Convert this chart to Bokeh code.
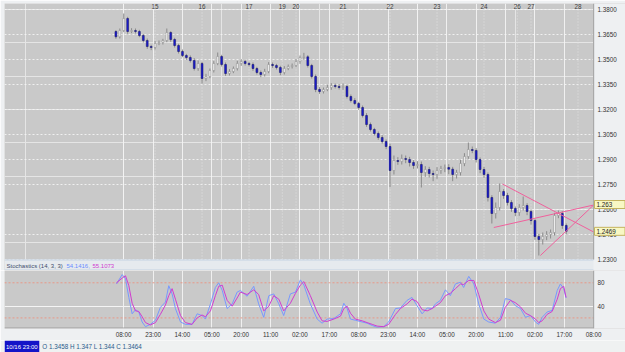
import numpy as np
from bokeh.plotting import figure
from bokeh.layouts import column
from bokeh.models import Range1d, FixedTicker, Grid, ColumnDataSource
from bokeh.core.properties import value
from bokeh.embed import file_html
from bokeh.resources import INLINE

# ---------------- data ----------------
bar_hours_start = -4          # first 2-hour bar, hours after 10/14 08:00 (weekends compressed)
bar_step = 2
first_open = 1.3668
closes = [
    1.3636, 1.3674, 1.3746, 1.3668, 1.3674, 1.3668, 1.3644, 1.3614, 1.3578, 1.3572,
    1.3596, 1.3602, 1.3614, 1.3662, 1.3620, 1.3584, 1.3548, 1.3524, 1.3512, 1.3494,
    1.3446, 1.3476, 1.3386, 1.3398, 1.3434, 1.3476, 1.3518, 1.3470, 1.3416, 1.3428,
    1.3446, 1.3476, 1.3488, 1.3476, 1.3470, 1.3446, 1.3422, 1.3410, 1.3428, 1.3470,
    1.3464, 1.3452, 1.3422, 1.3446, 1.3458, 1.3464, 1.3488, 1.3512, 1.3516, 1.3464,
    1.3398, 1.3320, 1.3308, 1.3320, 1.3332, 1.3344, 1.3338, 1.3332, 1.3338, 1.3278,
    1.3254, 1.3236, 1.3212, 1.3164, 1.3110, 1.3080, 1.3056, 1.3032, 1.3008, 1.2978,
    1.2834, 1.2894, 1.2888, 1.2906, 1.2900, 1.2882, 1.2864, 1.2870, 1.2822, 1.2840,
    1.2816, 1.2810, 1.2834, 1.2846, 1.2852, 1.2842, 1.2810, 1.2822, 1.2876, 1.2918,
    1.2960, 1.2954, 1.2900, 1.2840, 1.2810, 1.2672, 1.2576, 1.2612, 1.2708, 1.2684,
    1.2642, 1.2606, 1.2582, 1.2612, 1.2624, 1.2588, 1.2534, 1.2438, 1.2420, 1.2438,
    1.2450, 1.2462, 1.2564, 1.2576, 1.2504, 1.2469]
wick_up_pips = [
    8, 12, 30, 10, 14, 12, 10, 8, 12, 10,
    14, 12, 10, 24, 8, 10, 10, 12, 10, 12,
    14, 18, 10, 16, 12, 14, 24, 10, 12, 14,
    12, 16, 14, 12, 10, 12, 10, 12, 16, 14,
    12, 10, 10, 14, 12, 12, 14, 12, 24, 10,
    10, 12, 14, 12, 16, 14, 12, 14, 18, 10,
    12, 14, 10, 12, 14, 12, 10, 12, 14, 12,
    16, 30, 20, 24, 18, 16, 14, 20, 18, 20,
    16, 18, 20, 16, 18, 20, 14, 16, 22, 20,
    42, 18, 14, 12, 16, 12, 14, 30, 48, 14,
    16, 14, 12, 20, 54, 14, 12, 10, 16, 24,
    20, 18, 16, 18, 14, 12]
wick_dn_pips = [
    12, 10, 10, 14, 10, 12, 10, 12, 14, 16,
    12, 10, 12, 10, 14, 12, 12, 10, 14, 12,
    12, 14, 30, 16, 10, 12, 10, 12, 14, 12,
    10, 12, 14, 12, 12, 14, 12, 16, 12, 10,
    14, 12, 16, 12, 10, 12, 10, 14, 12, 12,
    12, 16, 14, 12, 10, 14, 12, 12, 14, 12,
    12, 10, 14, 12, 14, 12, 12, 14, 12, 16,
    100, 24, 20, 18, 22, 24, 20, 18, 90, 26,
    24, 40, 26, 20, 22, 30, 40, 24, 18, 16,
    14, 16, 18, 22, 20, 24, 60, 30, 18, 20,
    18, 20, 22, 20, 18, 22, 24, 20, 96, 30,
    22, 24, 18, 16, 20, 18]

time_tick_hours = [0, 15, 30, 45, 60, 75, 90, 105, 120, 135, 150, 165, 180, 195, 210, 225, 240]
time_tick_labels = ["08:00", "23:00", "14:00", "05:00", "20:00", "11:00", "02:00", "17:00",
                    "08:00", "23:00", "14:00", "05:00", "20:00", "11:00", "02:00", "17:00", "08:00"]
date_hours = [16, 40, 64, 81, 88, 112, 136, 160, 184, 201, 208, 232]
date_labels = ["15", "16", "17", "19", "20", "21", "22", "23", "24", "26", "27", "28"]
price_ticks = [1.2300, 1.2450, 1.2600, 1.2750, 1.2900, 1.3050, 1.3200, 1.3350, 1.3500, 1.3650, 1.3800]
price_labels = ["%.4f" % v for v in price_ticks]

trend_t0 = [193.4, 189.0, 212.8]
trend_p0 = [1.2753, 1.2492, 1.2324]
trend_t1 = [240.0, 240.0, 240.0]
trend_p1 = [1.2465, 1.2627, 1.2627]
tag_values = [1.263, 1.2469]
tag_texts = ["1.263", "1.2469"]

stoch_hours = [-3.7, -0.8, 0.9, 2.6, 4.3, 6.0, 7.7, 9.4, 11.1, 13.6,
               16.2, 18.7, 21.3, 23.0, 24.7, 26.4, 29.0, 31.5, 34.9, 37.5,
               40.0, 41.7, 44.3, 46.8, 48.5, 50.3, 52.8, 55.4, 57.9, 59.6,
               63.0, 66.4, 68.9, 71.5, 74.1, 76.6, 79.2, 81.7, 85.1, 87.7,
               90.2, 92.0, 95.3, 98.8, 101.3, 103.9, 107.3, 110.7, 112.4, 114.1,
               115.8, 118.3, 121.8, 124.3, 126.9, 129.4, 132.8, 135.3, 138.8, 141.3,
               144.7, 147.2, 149.8, 152.4, 155.0, 157.5, 159.2, 161.7, 164.3, 166.8,
               169.4, 172.0, 173.6, 176.2, 178.8, 181.3, 183.9, 186.4, 189.8, 192.4,
               194.9, 197.5, 200.0, 202.6, 205.2, 207.7, 210.3, 211.9, 213.7, 216.2,
               218.8, 221.4, 223.0, 224.7, 225.9]
stoch_k = [78, 94, 87, 55, 27, 34, 30, 13, 5, 9,
           16, 38, 47, 75, 61, 36, 13, 9, 9, 27,
           24, 18, 44, 72, 80, 67, 36, 44, 64, 67,
           57, 74, 44, 21, 58, 61, 44, 24, 61, 64,
           85, 76, 44, 18, 11, 18, 19, 27, 45, 36,
           18, 16, 13, 11, 7, 4, 5, 13, 36, 37,
           50, 55, 41, 27, 37, 36, 44, 50, 68, 58,
           78, 81, 72, 91, 78, 44, 18, 13, 11, 21,
           53, 51, 41, 36, 21, 24, 13, 9, 21, 30,
           33, 67, 78, 70, 54.1416]
stoch_d = [80, 88, 92, 75, 45, 32, 31, 22, 12, 8,
           12, 26, 42, 58, 70, 52, 24, 12, 9, 20,
           25, 22, 32, 58, 74, 76, 50, 40, 54, 64,
           60, 68, 60, 32, 40, 58, 52, 32, 45, 62,
           76, 82, 58, 30, 15, 14, 18, 23, 36, 40,
           28, 18, 15, 12, 9, 6, 5, 9, 26, 36,
           44, 52, 48, 34, 32, 36, 40, 46, 58, 62,
           70, 78, 77, 84, 84, 60, 32, 18, 12, 16,
           38, 50, 46, 39, 28, 24, 18, 12, 15, 26,
           31, 52, 70, 74, 55.1073]
stoch_ticks = [40, 80]
stoch_levels = [80, 20]
stoch_title = "Stochastics (14, 3, 3)"
info_time = "10/16 23:00"
info_ohlc = "O 1.3458 H 1.347 L 1.344 C 1.3464"

# ---------------- derived OHLC ----------------
n = len(closes)
bar_hours = [bar_hours_start + bar_step * i for i in range(n)]
opens = [first_open] + closes[:-1]
tops = [max(o, c) for o, c in zip(opens, closes)]
bots = [min(o, c) for o, c in zip(opens, closes)]
highs = [t + u * 0.0001 for t, u in zip(tops, wick_up_pips)]
lows = [b - d * 0.0001 for b, d in zip(bots, wick_dn_pips)]
down = [c < o for o, c in zip(opens, closes)]
fills = ["#1c1cd2" if d else "#f4f4f4" for d in down]
lines = ["#10105a" if d else "#8a8a8a" for d in down]
src = ColumnDataSource(dict(t=bar_hours, top=tops, bot=bots, hi=highs, lo=lows, fill=fills, line=lines))

# ---------------- layout constants ----------------
FONT = "Liberation Sans"
FS = "6.3px"
FS_STRIP = "6px"
BORDER = "#eef0f2"
PANEL = "#c9c9c9"
STRIP = "#e6eaee"
PX_H = 1.958                 # pixels per hour
T_LEFT = -60.9               # hour at the panel's left edge (x=4)
T_END = 240.0                # hour at the panel's right edge (x=593.5)
T_RIGHT = T_LEFT + 621 / PX_H  # hour at the window edge (x=625)
def tx(px):
    return T_LEFT + (px - 4) / PX_H

P_TOP = 1.3836               # price at y=3
P_PX = 0.0006                # price per pixel
P_PANEL_BOTTOM = 1.2300      # price at y=259
P_BOTTOM = P_TOP - 267 * P_PX  # price at y=270
def py(y):
    return P_TOP - (y - 3) * P_PX

xr_main = Range1d(T_LEFT, T_RIGHT)

# ---------------- main price panel ----------------
p = figure(width=625, height=270, x_range=xr_main, y_range=Range1d(P_BOTTOM, P_TOP),
           output_backend="svg", toolbar_location=None, x_axis_location=None,
           y_axis_location=None, min_border_left=4, min_border_right=0,
           min_border_top=3, min_border_bottom=0)
p.title.visible = False
p.background_fill_color = PANEL
p.border_fill_color = BORDER
p.outline_line_color = None
p.add_layout(Grid(dimension=0, ticker=FixedTicker(ticks=time_tick_hours),
                  grid_line_color="#f4f4f4", grid_line_alpha=0.9))
p.add_layout(Grid(dimension=1, ticker=FixedTicker(ticks=price_ticks),
                  grid_line_color="#f4f4f4", grid_line_dash="2 2", grid_line_alpha=0.9))
p.segment(x0=date_hours, y0=[P_PANEL_BOTTOM] * len(date_hours), x1=date_hours,
          y1=[P_TOP] * len(date_hours), line_color="#e2e2e2", line_dash="1 2", line_width=1)

p.text(x=date_hours, y=[py(6)] * len(date_hours), text=date_labels,
       text_font=value(FONT), text_font_size=FS, text_color="#404040",
       text_align="center", text_baseline="middle")

p.segment(x0="t", y0="hi", x1="t", y1="lo", source=src, line_color="#8a8a8a", line_width=1)
p.vbar(x="t", width=0.95, top="top", bottom="bot", source=src,
       fill_color="fill", line_color="line", line_width=0.5)

p.segment(x0=trend_t0, y0=trend_p0, x1=trend_t1, y1=trend_p1,
          line_color="#f0609c", line_width=1)

# separator strip under the price panel
p.quad(left=[T_LEFT], right=[T_END], bottom=[P_BOTTOM], top=[P_PANEL_BOTTOM],
       fill_color=STRIP, line_color=None)
p.segment(x0=[T_LEFT, T_LEFT], y0=[py(259.5), py(269.5)], x1=[T_END, T_END],
          y1=[py(259.5), py(269.5)], line_color="#c4d2e2", line_width=1)
# right axis area
p.quad(left=[T_END], right=[T_RIGHT], bottom=[P_BOTTOM], top=[P_TOP],
       fill_color=BORDER, line_color=None)
p.segment(x0=[T_END], y0=[P_PANEL_BOTTOM], x1=[T_END], y1=[P_TOP],
          line_color="#9c9c9c", line_width=1)
p.text(x=[tx(597)] * len(price_ticks), y=price_ticks, text=price_labels,
       text_font=value(FONT), text_font_size=FS, text_color="#333333",
       text_align="left", text_baseline="middle")
# current-value tags
p.quad(left=[tx(594)] * len(tag_values), right=[tx(624.5)] * len(tag_values),
       bottom=[v - 4 * P_PX for v in tag_values], top=[v + 4 * P_PX for v in tag_values],
       fill_color="#f8f8c4", line_color="#c4b460", line_width=1)
p.text(x=[tx(596)] * len(tag_values), y=tag_values, text=tag_texts,
       text_font=value(FONT), text_font_size=FS, text_color="#222222",
       text_align="left", text_baseline="middle")
# strip title
p.text(x=[tx(6)], y=[py(265)], text=[stoch_title], text_font=value(FONT), text_font_size=FS_STRIP,
       text_color="#3c4c6c", text_align="left", text_baseline="middle")
p.text(x=[tx(66)], y=[py(265)], text=["%.4f," % stoch_k[-1]], text_font=value(FONT),
       text_font_size=FS_STRIP, text_color="#6a8cff", text_align="left", text_baseline="middle")
p.text(x=[tx(92)], y=[py(265)], text=["%.4f" % stoch_d[-1]], text_font=value(FONT),
       text_font_size=FS_STRIP, text_color="#d040d0", text_align="left", text_baseline="middle")

# ---------------- stochastics panel ----------------
S_BOTTOM, S_TOP = 1.9, 101.0
q = figure(width=625, height=70, x_range=xr_main, y_range=Range1d(S_BOTTOM, S_TOP),
           output_backend="svg", toolbar_location=None, y_axis_location=None,
           min_border_left=4, min_border_right=0, min_border_top=0, min_border_bottom=12)
q.title.visible = False
q.background_fill_color = PANEL
q.border_fill_color = BORDER
q.outline_line_color = None
for g in q.grid:
    g.visible = False
q.add_layout(Grid(dimension=0, ticker=FixedTicker(ticks=time_tick_hours),
                  grid_line_color="#f4f4f4", grid_line_alpha=0.9))
q.add_layout(Grid(dimension=1, ticker=FixedTicker(ticks=[40]),
                  grid_line_color="#f4f4f4"))
q.segment(x0=[T_LEFT] * len(stoch_levels), y0=stoch_levels, x1=[T_END] * len(stoch_levels),
          y1=stoch_levels, line_color="#e89888", line_dash="2 2", line_width=1)

xa = q.xaxis[0]
xa.ticker = FixedTicker(ticks=time_tick_hours)
xa.major_label_overrides = {h: l for h, l in zip(time_tick_hours, time_tick_labels)}
xa.major_label_text_font = FONT
xa.major_label_text_font_size = FS
xa.major_label_text_color = "#333333"
xa.major_tick_out = 0
xa.major_tick_in = 0
xa.minor_tick_out = 0
xa.minor_tick_in = 0
xa.axis_line_color = None
xa.major_label_standoff = 2

q.line(stoch_hours, stoch_k, line_color="#7898ff", line_width=1)
q.line(stoch_hours, stoch_d, line_color="#d03cd0", line_width=1)

q.quad(left=[T_END], right=[T_RIGHT], bottom=[S_BOTTOM], top=[S_TOP],
       fill_color=BORDER, line_color=None)
q.segment(x0=[T_END, T_LEFT], y0=[S_BOTTOM, S_BOTTOM + 0.8], x1=[T_END, T_END],
          y1=[S_TOP, S_BOTTOM + 0.8], line_color="#9c9c9c", line_width=1)
q.text(x=[tx(597)] * len(stoch_ticks), y=stoch_ticks, text=[str(v) for v in stoch_ticks],
       text_font=value(FONT), text_font_size=FS, text_color="#333333",
       text_align="left", text_baseline="middle")

# ---------------- status bar ----------------
r = figure(width=625, height=12, x_range=Range1d(0, 625), y_range=Range1d(0, 12),
           output_backend="svg", toolbar_location=None, x_axis_location=None,
           y_axis_location=None, min_border_left=0, min_border_right=0,
           min_border_top=0, min_border_bottom=0)
r.title.visible = False
r.background_fill_color = "#eff1f1"
r.border_fill_color = "#eff1f1"
r.outline_line_color = None
for g in r.grid:
    g.visible = False
r.quad(left=[0], right=[35], bottom=[0], top=[12], fill_color="#1414c8", line_color=None)
r.text(x=[1.5], y=[6], text=[info_time], text_font=value(FONT), text_font_size="6px",
       text_color="#ffffff", text_align="left", text_baseline="middle")
r.text(x=[38], y=[6], text=[info_ohlc], text_font=value(FONT), text_font_size=FS,
       text_color="#2a5c8c", text_align="left", text_baseline="middle")

layout = column(p, q, r, spacing=0)
open("out.html", "w").write(file_html(layout, INLINE))
